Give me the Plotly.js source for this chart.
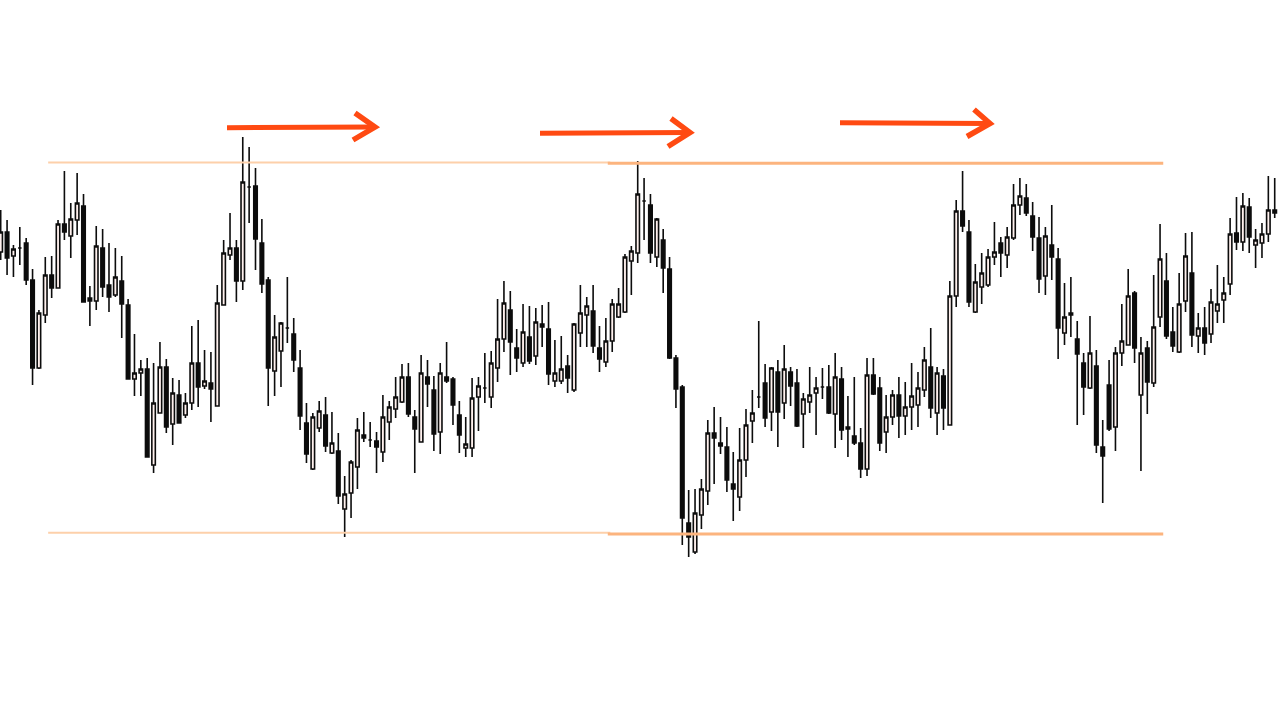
<!DOCTYPE html>
<html>
<head>
<meta charset="utf-8">
<script src="https://cdn.plot.ly/plotly-3.0.1.min.js"></script>
<style>
  html, body { margin: 0; padding: 0; background: #ffffff; }
  #chart { width: 1280px; height: 720px; }
</style>
</head>
<body>
<div id="chart"></div>
<script>
// Candle values (arbitrary price units)
const openPrices = [
  448,468,444,452,457,420,332,385,425,412,
  476,464,480,494,402,399,452,415,405,419,
  395,321,327,331,235,287,333,276,305,285,
  297,337,314,317,294,395,445,452,419,513,
  514,457,420,329,349,372,366,332,277,231,
  272,285,247,249,191,207,233,265,260,259,
  248,278,291,298,323,283,258,323,310,268,
  323,321,285,252,252,303,312,303,332,361,
  390,352,337,363,344,376,371,319,319,334,
  310,367,385,389,352,338,359,383,388,439,
  447,499,495,443,460,431,342,313,177,148,
  185,209,267,257,253,216,203,240,279,303,
  317,288,328,297,328,317,286,298,307,313,
  313,286,321,273,264,257,231,325,312,268,
  283,305,284,293,295,310,333,287,324,275,
  404,489,468,388,413,415,443,457,445,462,
  495,502,484,462,424,455,441,367,385,361,
  337,312,334,253,315,273,347,355,407,305,
  352,317,383,419,368,348,399,427,364,372,
  366,389,400,416,467,458,493,455,457,466,
  490
];
const highPrices = [
  490,480,455,473,462,431,390,443,444,480,
  529,497,527,506,414,474,471,457,452,444,
  401,366,340,342,337,358,341,322,320,307,
  374,380,350,348,415,460,487,460,563,553,
  532,481,423,385,378,423,382,350,297,287,
  299,303,288,267,224,240,282,288,278,268,
  305,299,323,336,337,290,345,340,324,337,
  358,323,299,283,322,323,347,349,401,419,
  409,371,396,394,392,395,398,360,364,345,
  377,415,403,415,374,382,401,412,446,454,
  539,522,506,482,471,443,345,315,210,211,
  221,280,293,283,273,248,272,291,310,379,
  336,333,340,355,333,331,307,333,323,332,
  335,347,333,304,323,272,342,342,323,305,
  310,323,318,337,328,353,372,333,331,419,
  500,529,480,436,447,451,478,463,473,516,
  522,516,498,483,473,495,452,417,423,379,
  347,384,350,280,340,353,396,431,409,363,
  359,425,476,447,393,427,467,468,387,393,
  411,435,423,482,503,507,502,471,477,524,
  522
];
const lowPrices = [
  440,425,423,435,415,315,331,377,402,412,
  460,442,465,398,374,390,403,388,403,362,
  321,304,304,243,227,287,267,255,277,282,
  290,293,311,278,294,395,440,398,410,477,
  430,407,294,304,313,357,328,270,237,230,
  268,248,246,196,163,182,211,258,253,227,
  238,260,282,297,283,227,258,293,249,246,
  317,275,247,243,243,269,297,292,318,348,
  325,328,333,336,335,353,315,313,316,307,
  308,353,353,347,328,333,348,382,387,405,
  437,460,437,433,407,341,292,155,143,146,
  171,195,216,246,208,179,189,223,257,292,
  273,269,253,281,294,273,252,287,265,301,
  286,252,260,243,255,222,224,305,249,247,
  275,262,265,270,273,303,282,265,270,275,
  393,468,393,387,396,413,435,423,432,460,
  485,484,449,407,405,420,341,355,363,275,
  285,311,247,197,269,249,334,355,337,229,
  286,313,373,361,348,347,388,353,347,345,
  357,377,377,405,450,449,447,432,442,458,
  482
];
const closePrices = [
  468,442,451,452,420,332,387,425,412,476,
  468,481,497,398,399,454,413,403,423,396,
  321,327,331,243,297,333,273,307,277,297,
  337,313,319,311,397,447,452,419,518,513,
  461,416,332,363,377,372,340,284,246,283,
  289,254,257,204,206,238,270,262,260,253,
  283,293,303,323,286,271,327,316,266,327,
  319,295,265,256,302,314,312,337,361,397,
  358,342,368,339,378,373,326,327,331,322,
  376,387,394,354,341,359,396,396,443,449,
  506,499,447,481,432,342,311,182,163,187,
  211,267,262,254,220,211,240,275,287,303,
  282,332,288,331,314,274,301,305,312,313,
  287,323,270,271,257,231,325,306,257,283,
  305,284,293,304,312,340,292,327,292,404,
  489,474,398,418,427,443,448,447,463,495,
  504,487,463,421,464,443,372,383,387,346,
  313,347,255,244,271,347,359,404,352,347,
  318,373,441,364,354,396,444,365,372,357,
  398,396,407,466,458,494,463,460,466,490,
  487
];
// Horizontal level lines (older segment, newer segment)
const resistanceLevels = [537.5, 536.7];
const supportLevels = [167.2, 166.0];

const barIndex = openPrices.map((_, i) => i);

const W = 1280, H = 720;
const px = v => v / W;
const py = v => 1 - v / H;

const trace = {
  type: 'candlestick',
  x: barIndex,
  open: openPrices,
  high: highPrices,
  low: lowPrices,
  close: closePrices,
  whiskerwidth: 0,
  increasing: { line: { color: '#0c0c0c', width: 1.6 }, fillcolor: '#fff1ee' },
  decreasing: { line: { color: '#0c0c0c', width: 1.6 }, fillcolor: '#0c0c0c' },
  hoverinfo: 'skip'
};

function arrow(x0, y0, x1, y1, ax0, ay0, ax1, ay1) {
  const c = '#ff4a12';
  return [
    { type: 'path', xref: 'paper', yref: 'paper',
      path: `M ${px(x0)},${py(y0)} L ${px(x1)},${py(y1)}`,
      line: { color: c, width: 5 } },
    { type: 'path', xref: 'paper', yref: 'paper',
      path: `M ${px(ax0)},${py(ay0)} L ${px(x1)},${py(y1)} L ${px(ax1)},${py(ay1)}`,
      line: { color: c, width: 5.5 } }
  ];
}

const shapes = [
  { type: 'line', xref: 'x', yref: 'y', x0: 7.45, x1: 95.7, y0: resistanceLevels[0], y1: resistanceLevels[0],
    line: { color: '#fdd0aa', width: 2 } },
  { type: 'line', xref: 'x', yref: 'y', x0: 95.3, x1: 182.5, y0: resistanceLevels[1], y1: resistanceLevels[1],
    line: { color: '#fcb47e', width: 3 } },
  { type: 'line', xref: 'x', yref: 'y', x0: 7.45, x1: 95.7, y0: supportLevels[0], y1: supportLevels[0],
    line: { color: '#fdd0aa', width: 2 } },
  { type: 'line', xref: 'x', yref: 'y', x0: 95.3, x1: 182.5, y0: supportLevels[1], y1: supportLevels[1],
    line: { color: '#fcb47e', width: 3 } },
  ...arrow(227, 127.7, 375, 127, 355, 113, 353, 140),
  ...arrow(540, 133.3, 690, 132.5, 671, 118.5, 668, 146.5),
  ...arrow(840, 122.7, 990, 123.5, 974, 109.5, 967, 136.5)
];

const layout = {
  width: W, height: H,
  margin: { l: 0, r: 0, t: 0, b: 0, pad: 0 },
  paper_bgcolor: '#ffffff',
  plot_bgcolor: '#ffffff',
  showlegend: false,
  boxgap: 0.22,
  xaxis: { visible: false, range: [-0.11, 200.83], rangeslider: { visible: false }, fixedrange: true },
  yaxis: { visible: false, range: [-20, 700], fixedrange: true },
  shapes: shapes,
  hovermode: false
};

Plotly.newPlot('chart', [trace], layout, { staticPlot: true, displayModeBar: false });
</script>
</body>
</html>
